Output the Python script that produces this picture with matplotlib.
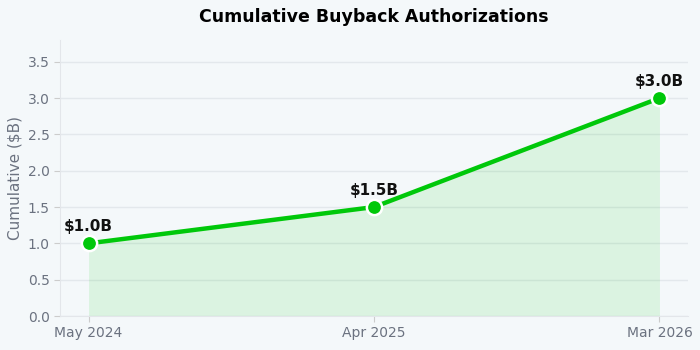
import matplotlib
matplotlib.use("Agg")
import matplotlib.pyplot as plt

labels = ["May 2024", "Apr 2025", "Mar 2026"]
values = [1.0, 1.5, 3.0]
annotations = ["$1.0B", "$1.5B", "$3.0B"]

bg = "#f4f8fa"
green = "#00c80a"
tick_color = "#6b7280"

fig = plt.figure(figsize=(7, 3.5), dpi=100, facecolor=bg)
ax = fig.add_axes([60/700, 1 - 316/350, (688-60)/700, (316-40)/350])
ax.set_facecolor(bg)

x = list(range(len(values)))
ax.fill_between(x, values, 0, color=green, alpha=0.1, linewidth=0)
ax.plot(x, values, color=green, linewidth=3.2, marker="o", markersize=11,
        markerfacecolor=green, markeredgecolor="white", markeredgewidth=1.8, zorder=3)
for xi, v, t in zip(x, values, annotations):
    ax.annotate(t.replace("$", r"\$"), (xi, v), xytext=(0, 6.5), textcoords="offset points",
                ha="center", va="bottom", fontsize=11, fontweight="bold", color="#111111")

ax.set_xlim(-0.1, 2.1)
ax.set_ylim(0, 3.8)
ax.set_xticks(x)
ax.set_xticklabels(labels)
yt = [0, 0.5, 1.0, 1.5, 2.0, 2.5, 3.0, 3.5]
ax.set_yticks(yt)
ax.set_yticklabels([f"{v:.1f}" for v in yt])
ax.tick_params(colors=tick_color, labelsize=10, length=4, color="#cccccc")
ax.set_ylabel("Cumulative ($B)", color=tick_color, fontsize=11)
ax.grid(axis="y", color="#e3e8ec", linewidth=1)
ax.set_axisbelow(True)
for s in ["top", "right"]:
    ax.spines[s].set_visible(False)
for s in ["left", "bottom"]:
    ax.spines[s].set_color("#e3e6ea")
ax.set_title("Cumulative Buyback Authorizations", fontsize=12.5, fontweight="bold", pad=13)

fig.savefig("out.png", dpi=100, facecolor=bg)
